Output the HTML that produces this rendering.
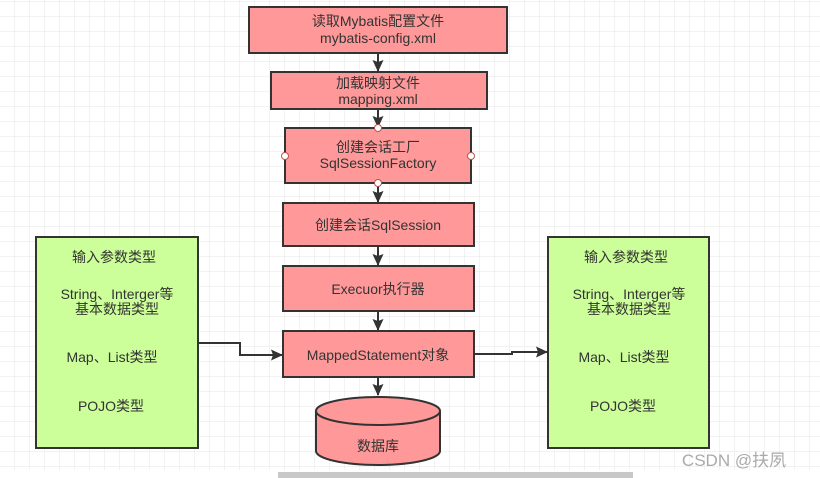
<!DOCTYPE html>
<html><head><meta charset="utf-8"><style>
html,body{margin:0;padding:0;background:#fff;}
svg{display:block}
text{font-family:"Liberation Sans","Noto Sans CJK SC",sans-serif;font-size:14px;fill:#333;text-anchor:middle}
</style></head><body>
<svg width="820" height="478" viewBox="0 0 820 478" xmlns="http://www.w3.org/2000/svg">
<defs>
<pattern id="g" width="15" height="15" patternUnits="userSpaceOnUse" x="0" y="2">
<path d="M15 0V15M0 15H15" stroke="#e6e6e6" stroke-width="1" fill="none"/>
</pattern>
<marker id="a" markerWidth="12" markerHeight="12" refX="11" refY="6" orient="auto" markerUnits="userSpaceOnUse">
<path d="M0 0.5L12 6L0 11.5L2 6Z" fill="#333"/>
</marker>
</defs>
<rect width="820" height="470" fill="url(#g)"/>
<rect x="0" y="470" width="820" height="8" fill="#fff"/>
<rect x="278" y="472" width="355" height="6" fill="#c8c8c8"/>
<g stroke="#333" stroke-width="2" fill="none">
<line x1="378" y1="53" x2="378" y2="71" marker-end="url(#a)"/>
<line x1="378" y1="109" x2="378" y2="127" marker-end="url(#a)"/>
<line x1="378" y1="183" x2="378" y2="202" marker-end="url(#a)"/>
<line x1="378" y1="246" x2="378" y2="265" marker-end="url(#a)"/>
<line x1="378" y1="311" x2="378" y2="330" marker-end="url(#a)"/>
<line x1="378" y1="377" x2="378" y2="395" marker-end="url(#a)"/>
<polyline points="198,343 240,343 240,355 282,355" marker-end="url(#a)"/>
<polyline points="474,354 512,354 512,352 547,352" marker-end="url(#a)"/>
</g>
<g fill="#ff9999" stroke="#333" stroke-width="2">
<rect x="249" y="7" width="258" height="46"/>
<rect x="271" y="72" width="216" height="37"/>
<rect x="285" y="128" width="186" height="55"/>
<rect x="283" y="203" width="191" height="43"/>
<rect x="283" y="266" width="191" height="45"/>
<rect x="283" y="331" width="191" height="46"/>
<path d="M316 411 A62 14 0 0 1 440 411 V451 A62 14 0 0 1 316 451 Z"/>
<path d="M316 411 A62 14 0 0 0 440 411" fill="none"/>
</g>
<g fill="#fff" stroke="#b85450" stroke-width="1">
<circle cx="378" cy="128" r="3.5"/><circle cx="378" cy="183" r="3.5"/>
<circle cx="285" cy="156" r="3.5"/><circle cx="471" cy="156" r="3.5"/>
</g>
<g fill="#ccff99" stroke="#333" stroke-width="2">
<rect x="36" y="237" width="162" height="211"/>
<rect x="548" y="237" width="161" height="211"/>
</g>
<text x="378" y="26">读取Mybatis配置文件</text>
<text x="378" y="43">mybatis-config.xml</text>
<text x="378" y="88">加载映射文件</text>
<text x="378" y="104">mapping.xml</text>
<text x="378" y="152">创建会话工厂</text>
<text x="378" y="168">SqlSessionFactory</text>
<text x="378" y="230">创建会话SqlSession</text>
<text x="378" y="294">Execuor执行器</text>
<text x="378" y="360">MappedStatement对象</text>
<text x="378" y="451">数据库</text>
<g>
<text x="114" y="262">输入参数类型</text>
<text x="117" y="299">String、Interger等</text>
<text x="117" y="314">基本数据类型</text>
<text x="112" y="362">Map、List类型</text>
<text x="111" y="411">POJO类型</text>
<text x="626" y="262">输入参数类型</text>
<text x="629" y="299">String、Interger等</text>
<text x="629" y="314">基本数据类型</text>
<text x="624" y="362">Map、List类型</text>
<text x="623" y="411">POJO类型</text>
</g>
<text x="734" y="466" style="font-size:17px;fill:#aaa">CSDN @扶夙</text>
</svg>
</body></html>
